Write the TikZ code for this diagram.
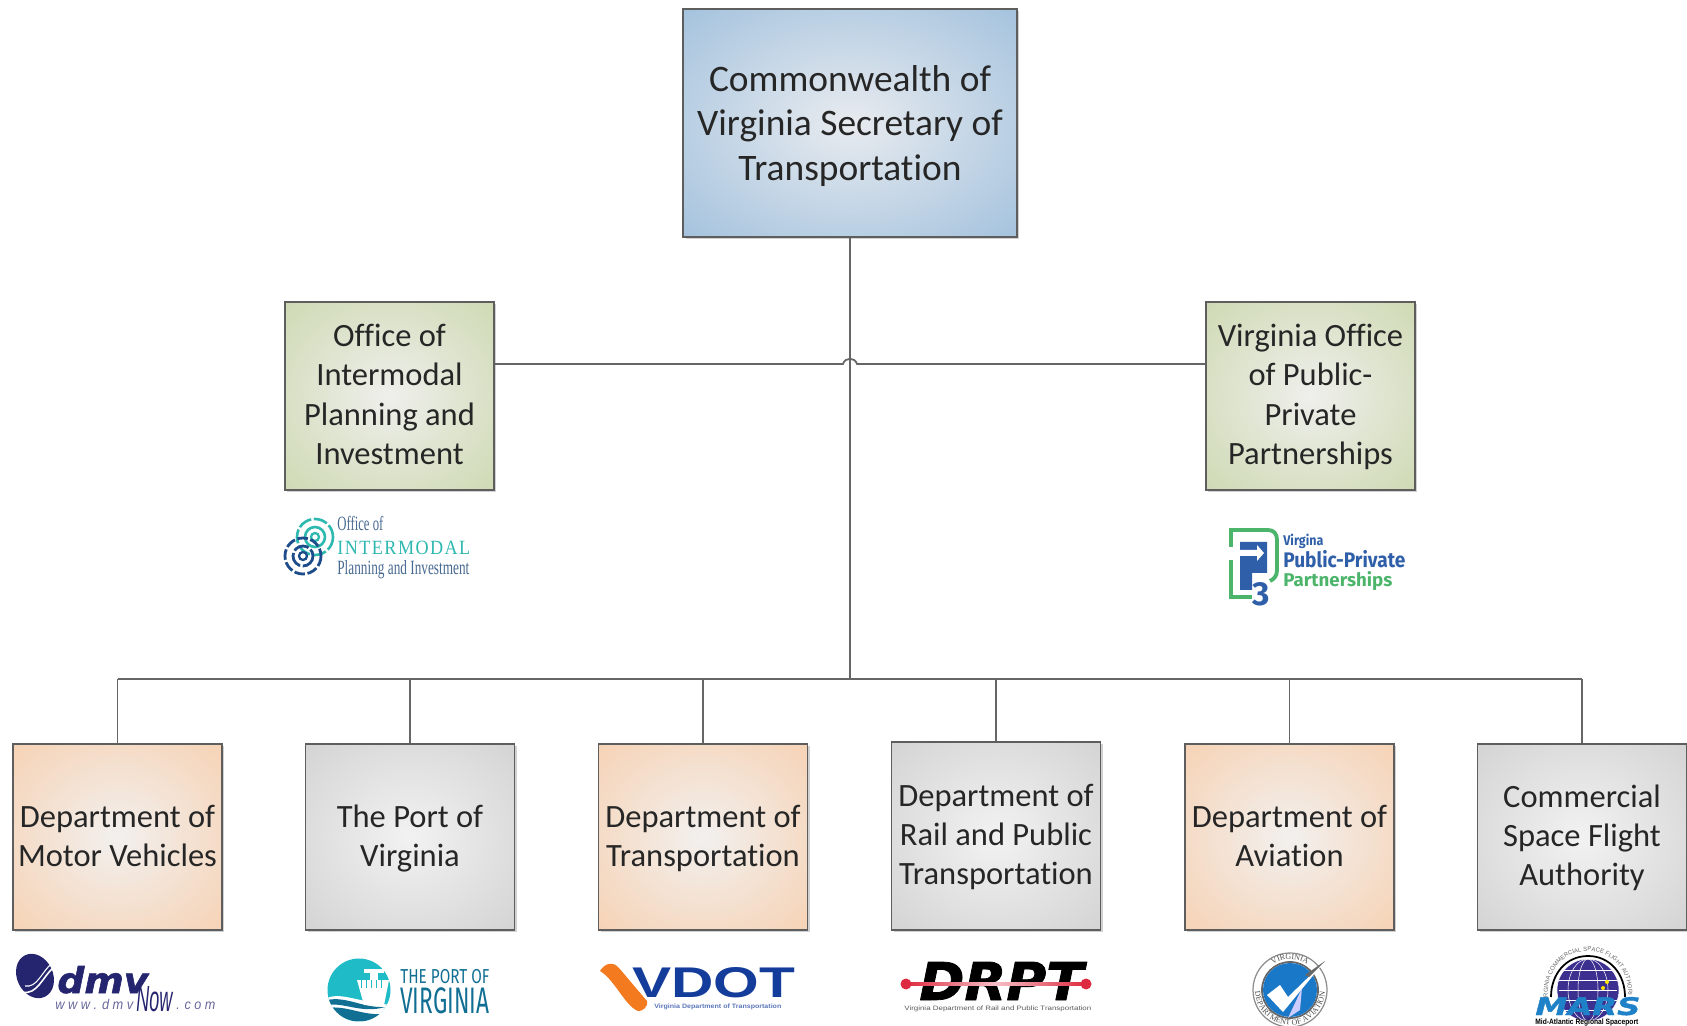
\documentclass[tikz,border=0pt]{standalone}
\usepackage{fontspec}
\setmainfont{Carlito}[Ligatures=NoCommon]
\newfontfamily\serifname{Liberation Serif}
\newfontfamily\logosans{Liberation Sans}
\newfontfamily\firaname{Fira Sans}
\newfontfamily\heavyname{DejaVu Sans}[FakeBold=1.5]
\usetikzlibrary{shadows,decorations.text}

\definecolor{boxline}{HTML}{5E5E5E}
\definecolor{conline}{HTML}{666666}
\definecolor{textblk}{HTML}{262626}
\definecolor{tealmark}{HTML}{2DB8B0}
\definecolor{navymark}{HTML}{1D4C8A}
\definecolor{oipitext}{HTML}{48698F}
\definecolor{ppblue}{HTML}{2F5FA8}
\definecolor{ppgreen}{HTML}{4DB56B}
\definecolor{dmvnavy}{HTML}{25256F}
\definecolor{portteal}{HTML}{1FBCC8}
\definecolor{portdark}{HTML}{126F94}
\definecolor{vdotblue}{HTML}{143C9A}
\definecolor{vdotorange}{HTML}{F47A1F}
\definecolor{drptred}{HTML}{DE2A40}
\definecolor{avblue}{HTML}{1A78C8}
\definecolor{marsblue}{HTML}{3B2F90}
\definecolor{marssky}{HTML}{1F82C8}

% radial fills of the boxes
\newcommand{\boxglow}[3]{\pgfdeclareradialshading{#1}{\pgfpointorigin}{color(0bp)=(#2); color(35bp)=(#3); color(100bp)=(#3)}}
\definecolor{blueC}{HTML}{E8EBEF}\definecolor{blueE}{HTML}{A5C3DE}
\definecolor{greenC}{HTML}{EFEFEC}\definecolor{greenE}{HTML}{CFDAB4}
\definecolor{orangeC}{HTML}{F2F0EE}\definecolor{orangeE}{HTML}{F6D3B6}
\definecolor{grayC}{HTML}{F2F2F2}\definecolor{grayE}{HTML}{D4D4D4}
\boxglow{blueglow}{blueC}{blueE}
\boxglow{greenglow}{greenC}{greenE}
\boxglow{orangeglow}{orangeC}{orangeE}
\boxglow{grayglow}{grayC}{grayE}

\newcommand{\fsz}[2]{\fontsize{#1}{#2}\selectfont}
\newcommand{\fitw}[2]{\resizebox{#1}{\height}{#2}}

\tikzset{
	orgbox/.style={draw=boxline, line width=1pt, align=center, inner sep=0pt, text=textblk, text depth=1.85pt,
		drop shadow={shadow xshift=1.4pt, shadow yshift=-1.4pt, opacity=.18, fill=black}},
	topbox/.style={orgbox, text depth=0pt, shading=blueglow, minimum width=6.68cm, minimum height=4.56cm, font=\fsz{21.3}{25.6}},
	midbox/.style={orgbox, shading=greenglow, minimum width=4.18cm, minimum height=3.76cm, font=\fsz{18.5}{22.4}},
	deptbox/.style={orgbox, minimum width=4.18cm, minimum height=3.72cm, font=\fsz{18.5}{22.2}},
	conn/.style={draw=conline, line width=1pt},
	logotext/.style={inner sep=0pt, anchor=base west},
}

\begin{document}
\begin{tikzpicture}[x=.02cm, y=-.02cm]
	\useasboundingbox (0,0) rectangle (1687,1026);

	% boxes
	\node[topbox] (sec) at (850,123) {Commonwealth of\\Virginia Secretary of\\Transportation};
	\node[midbox] (oipi) at (389.5,396) {Office of\\Intermodal\\Planning and\\Investment};
	\node[midbox] (vp3) at (1310.5,396) {Virginia Office\\of Public-\\Private\\Partnerships};
	\node[deptbox, shading=orangeglow] (dmv) at (117.5,837) {Department of\\Motor Vehicles};
	\node[deptbox, shading=grayglow] (port) at (410,837) {The Port of\\Virginia};
	\node[deptbox, shading=orangeglow] (vdot) at (703,837) {Department of\\Transportation};
	\node[deptbox, shading=grayglow, minimum height=3.76cm] (drpt) at (996,836) {Department of\\Rail and Public\\Transportation};
	\node[deptbox, shading=orangeglow] (doav) at (1289.5,837) {Department of\\Aviation};
	\node[deptbox, shading=grayglow] (vcsfa) at (1582,837) {Commercial\\Space Flight\\Authority};

	% connectors
	\coordinate (bus) at (850,679);
	\coordinate (hopl) at (843,364);
	\coordinate (hopr) at (857,364);
	\draw[conn] (sec.south) -- (sec.south |- bus);
	\draw[conn] (oipi.east |- hopl) -- (hopl) .. controls +(2,-7) and +(-2,-7) .. (hopr) -- (vp3.west |- hopr);
	\draw[conn] (dmv.north |- bus) -- (vcsfa.north |- bus);
	\foreach \dept in {dmv,port,vdot,drpt,doav,vcsfa}
		\draw[conn] (\dept.north |- bus) -- (\dept.north);

	% oipi logo
	\draw[tealmark, line width=1.5pt, dash pattern=on 8pt off 1.5pt] (315,537) circle (18);
	\draw[tealmark, line width=1.5pt] (315,537) circle (10);
	\draw[tealmark, line width=1.3pt] (315,537) circle (4);
	\draw[navymark, line width=1.6pt, dash pattern=on 6pt off 1.5pt] (303,556) circle (18);
	\draw[navymark, line width=1.6pt, dash pattern=on 9pt off 1.5pt] (303,556) circle (10);
	\draw[navymark, line width=1.3pt] (303,556) circle (4);
	\node[logotext, text=oipitext, font=\serifname\fsz{11.5}{12}] (oipia) at (337,531) {\fitw{.92cm}{Office of}};
	\node[logotext, text=tealmark, font=\serifname\addfontfeature{LetterSpace=8}\fsz{11.5}{14}] (oipib) at (337,555) {\fitw{2.66cm}{INTERMODAL}};
	\node[logotext, text=oipitext, font=\serifname\fsz{11.5}{12}] (oipic) at (337,575) {\fitw{2.64cm}{Planning and Investment}};

	% p3 logo
	\draw[ppgreen, line width=2.2pt] (1231,547) -- (1231,530) -- (1268,530) .. controls (1274,530) and (1277,534) .. (1277,540) -- (1277,570) .. controls (1277,576) and (1274,579) .. (1270,581);
	\draw[ppgreen, line width=2.2pt] (1231,560) -- (1231,597) -- (1252,597);
	\fill[ppblue] (1240,542) -- (1267,542) -- (1267,573) -- (1252,573) -- (1252,590) -- (1240,590) -- cycle;
	\fill[white] (1240,550) -- (1257,550) -- (1257,545) -- (1264,553) -- (1257,561) -- (1257,556) -- (1240,556) -- cycle;
	\node[logotext, text=ppblue, font=\firaname\bfseries\fsz{19}{20}] (ppc) at (1252,606) {3};
	\node[logotext, text=ppblue, font=\firaname\bfseries\fsz{8}{9}] (ppa) at (1283,546) {\fitw{.8cm}{Virgina}};
	\node[logotext, text=ppblue, font=\firaname\bfseries\fsz{12}{13}] (ppb) at (1283,568) {\fitw{2.44cm}{Public-Private}};
	\node[logotext, text=ppgreen, font=\firaname\bfseries\fsz{10.5}{12}] (ppd) at (1283,587) {\fitw{2.18cm}{Partnerships}};

	% dmv logo
	\fill[dmvnavy, rotate around={25:(35,976)}] (35,976) ellipse (18 and 23);
	\draw[white, line width=.9pt] (22,992) .. controls (37,996) and (43,976) .. (54,967);
	\draw[white, line width=.6pt] (25,986) .. controls (37,988) and (41,973) .. (52,963);
	\node[logotext, text=dmvnavy, font=\heavyname\bfseries\itshape\fsz{25}{26}] (dmva) at (57,993) {\resizebox{1.82cm}{.54cm}{dmv}};
	\node[logotext, text=dmvnavy!70, font=\logosans\itshape\fsz{8}{9}] (dmvb) at (55,1009) {\fitw{1.56cm}{w w w . d m v}};
	\node[logotext, text=dmvnavy, font=\logosans\itshape\fsz{15}{16}] (dmvc) at (136,1011) {\resizebox{.72cm}{.5cm}{Now}};
	\node[logotext, text=dmvnavy!70, font=\logosans\itshape\fsz{8}{9}] (dmvd) at (176,1009) {\fitw{.78cm}{. c o m}};

	% port logo
	\fill[portteal] (359,990) circle (31.5);
	\begin{scope}
		\clip (359,990) circle (31.5);
		\fill[white] (327,998) .. controls (342,992) and (357,1002) .. (392,1005) -- (392,1023) -- (327,1023) -- cycle;
		\fill[portdark] (327,1000) .. controls (347,996) and (362,1008) .. (385,1007) .. controls (362,1014) and (344,1002) .. (327,1005) -- cycle;
		\fill[portdark] (327,1008) .. controls (347,1005) and (362,1016) .. (385,1014) .. controls (372,1024) and (342,1024) .. (327,1012) -- cycle;
	\end{scope}
	\fill[white] (357,980) -- (389,980) -- (384,1005) -- (364,1005) -- cycle;
	\fill[white] (364,969) rectangle (384,973);
	\fill[white] (370,973) rectangle (378,980);
	\foreach \gx in {361,366,371,376,381}
		\draw[portteal, line width=.4pt] (\gx,980) -- (\gx,988);
	\node[logotext, text=portdark, font=\firaname\fsz{11.5}{12}] (porta) at (400,983) {\fitw{1.78cm}{THE PORT OF}};
	\node[logotext, text=portdark, font=\firaname\fsz{21}{22}] (portb) at (400,1013) {\fitw{1.78cm}{VIRGINIA}};

	% vdot logo
	\fill[vdotorange] (600,971) .. controls (605,963) and (613,961) .. (619,968) -- (647,1001) .. controls (649,1006) and (642,1012) .. (638,1011) .. controls (625,1006) and (615,980) .. (600,971) -- cycle;
	\node[logotext, text=vdotblue, font=\logosans\bfseries\fsz{23}{24}] (vdota) at (632,997) {\resizebox{3.26cm}{.6cm}{VDOT}};
	\node[logotext, text=vdotblue!70, font=\logosans\bfseries\fsz{3.6}{4}] (vdotb) at (654,1008) {\fitw{2.54cm}{Virginia Department of Transportation}};

	% drpt logo
	\node[logotext, font=\heavyname\bfseries\itshape\fsz{25}{26}] (drpta) at (919,1000) {\resizebox{3.28cm}{.76cm}{DRPT}};
	\shade[left color=drptred, right color=drptred, middle color=drptred!30] (906,982.5) rectangle (1086,985.5);
	\fill[drptred] (906,984) circle (5.5);
	\fill[drptred] (1086,984) circle (5.5);
	\node[logotext, text=black!65, font=\logosans\fsz{3.6}{4}] (drptb) at (904,1010) {\fitw{3.74cm}{Virginia Department of Rail and Public Transportation}};

	% aviation seal
	\draw[black!45, line width=.7pt] (1290,990) circle (37);
	\draw[black!60, line width=1pt] (1290,990) circle (28);
	\fill[avblue] (1290,990) circle (27);
	\fill[white] (1267,995) -- (1280,985) -- (1288,997) -- (1325,961) -- (1283,1012) -- cycle;
	\fill[black!60] (1305,975) -- (1325,961) -- (1309,977) -- cycle;
	\fill[blue!20] (1288,1018) -- (1302,988) -- (1300,1010) -- cycle;
	\path[decorate, decoration={text along path, text align=center, text={|\serifname\fsz{4.5}{5}\color{black!70}|VIRGINIA}}]
		(1259,990) .. controls (1259,973) and (1273,959) .. (1290,959) .. controls (1307,959) and (1321,973) .. (1321,990);
	\path[decorate, decoration={text along path, text align=center, text={|\serifname\fsz{4.5}{5}\color{black!70}|DEPARTMENT OF AVIATION}}]
		(1255,990) .. controls (1255,1009) and (1271,1025) .. (1290,1025) .. controls (1309,1025) and (1325,1009) .. (1325,990);

	% mars logo
	\fill[marsblue] (1588,990) circle (31);
	\foreach \mrx in {10,20,31}
		\draw[white, line width=.3pt] (1588,990) ellipse [x radius=\mrx, y radius=31];
	\foreach \mry in {970,980,990,1000,1010}
		\draw[white, line width=.3pt] (1559,\mry) -- (1617,\mry);
	\fill[yellow!85!orange] (1607,982) circle (2);
	\fill[yellow!85!orange] (1603,988) circle (2);
	\draw[black, line width=1pt] (1551,997) .. controls (1551,974) and (1566,956) .. (1588,956) .. controls (1610,956) and (1625,974) .. (1625,997);
	\path[decorate, decoration={text along path, text align=center, text={|\logosans\fsz{3.4}{4}\color{black!60}|VIRGINIA COMMERCIAL SPACE FLIGHT AUTHORITY}}]
		(1548,997) .. controls (1546,971) and (1564,951) .. (1588,951) .. controls (1612,951) and (1630,971) .. (1628,997);
	\node[logotext, text=marssky, font=\heavyname\bfseries\itshape\fsz{13}{14}] (marsa) at (1535,1015) {\resizebox{2.1cm}{.36cm}{MARS}};
	\node[logotext, font=\logosans\bfseries\fsz{4.4}{5}] (marsb) at (1535,1024) {\fitw{2.06cm}{Mid-Atlantic Regional Spaceport}};
\end{tikzpicture}
\end{document}
